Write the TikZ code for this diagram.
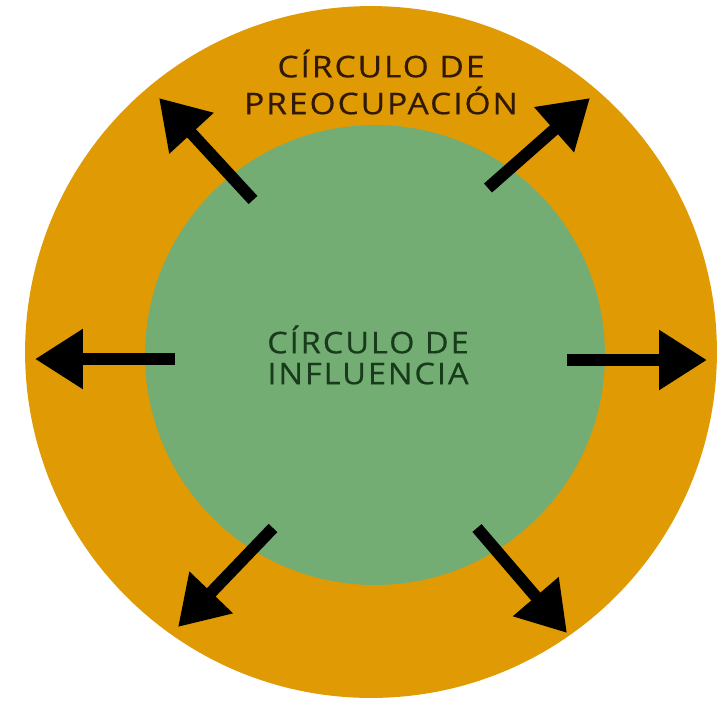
\documentclass[tikz,border=0pt]{standalone}
\usepackage{fontspec}
\setmainfont{Open Sans}
\newfontfamily\preocfont[LetterSpace=6,FakeBold=0.4]{Open Sans}
\newfontfamily\inflfont[LetterSpace=6,FakeBold=0.4]{Open Sans}
\usetikzlibrary{arrows.meta}
\definecolor{preocOrange}{HTML}{DF9A04}
\definecolor{inflGreen}{HTML}{74AD74}
\definecolor{preocText}{HTML}{301A06}
\definecolor{inflText}{HTML}{183C1B}
\newcommand\xstretch[2]{\scalebox{#1}[1]{#2}}

\begin{document}
\begin{tikzpicture}[x=0.02cm,y=-0.02cm,>={Triangle[length=0.96cm,width=1.14cm]}]

\tikzstyle{ring}=[circle,inner sep=0pt]
\tikzstyle{circletext}=[align=center,inner sep=0pt]
\tikzstyle{push}=[->,line width=0.24cm]
\tikzstyle{every edge}=[draw=black]

\useasboundingbox (0,0) rectangle (723,704);

\node[ring,fill=preocOrange,minimum size=13.84cm] (outer) at (371,352) {};
\node[ring,fill=inflGreen,minimum size=9.2cm]     (inner) at (375,355) {};

\node[circletext,text=preocText,font=\preocfont\fontsize{17}{21}\selectfont] (preoc) at (381,82)
  {\xstretch{1.12}{CÍRCULO DE}\\\xstretch{1.12}{PREOCUPACIÓN}};
\node[circletext,text=inflText,font=\inflfont\fontsize{17}{17.6}\selectfont] (infl) at (368,355)
  {\xstretch{1.09}{CÍRCULO DE}\\\xstretch{1.09}{INFLUENCIA}};

\coordinate (nwS) at (253,200); \coordinate (nwT) at (159,98);
\coordinate (neS) at (488,188); \coordinate (neT) at (590,98);
\coordinate (wS)  at (175,359); \coordinate (wT)  at (35,359);
\coordinate (eS)  at (567,360); \coordinate (eT)  at (707,360);
\coordinate (swS) at (273,528); \coordinate (swT) at (178,627);
\coordinate (seS) at (477,528); \coordinate (seT) at (567,633);

\path[push] (nwS) edge (nwT)
            (neS) edge (neT)
            (wS)  edge (wT)
            (eS)  edge (eT)
            (swS) edge (swT)
            (seS) edge (seT);
\end{tikzpicture}
\end{document}
